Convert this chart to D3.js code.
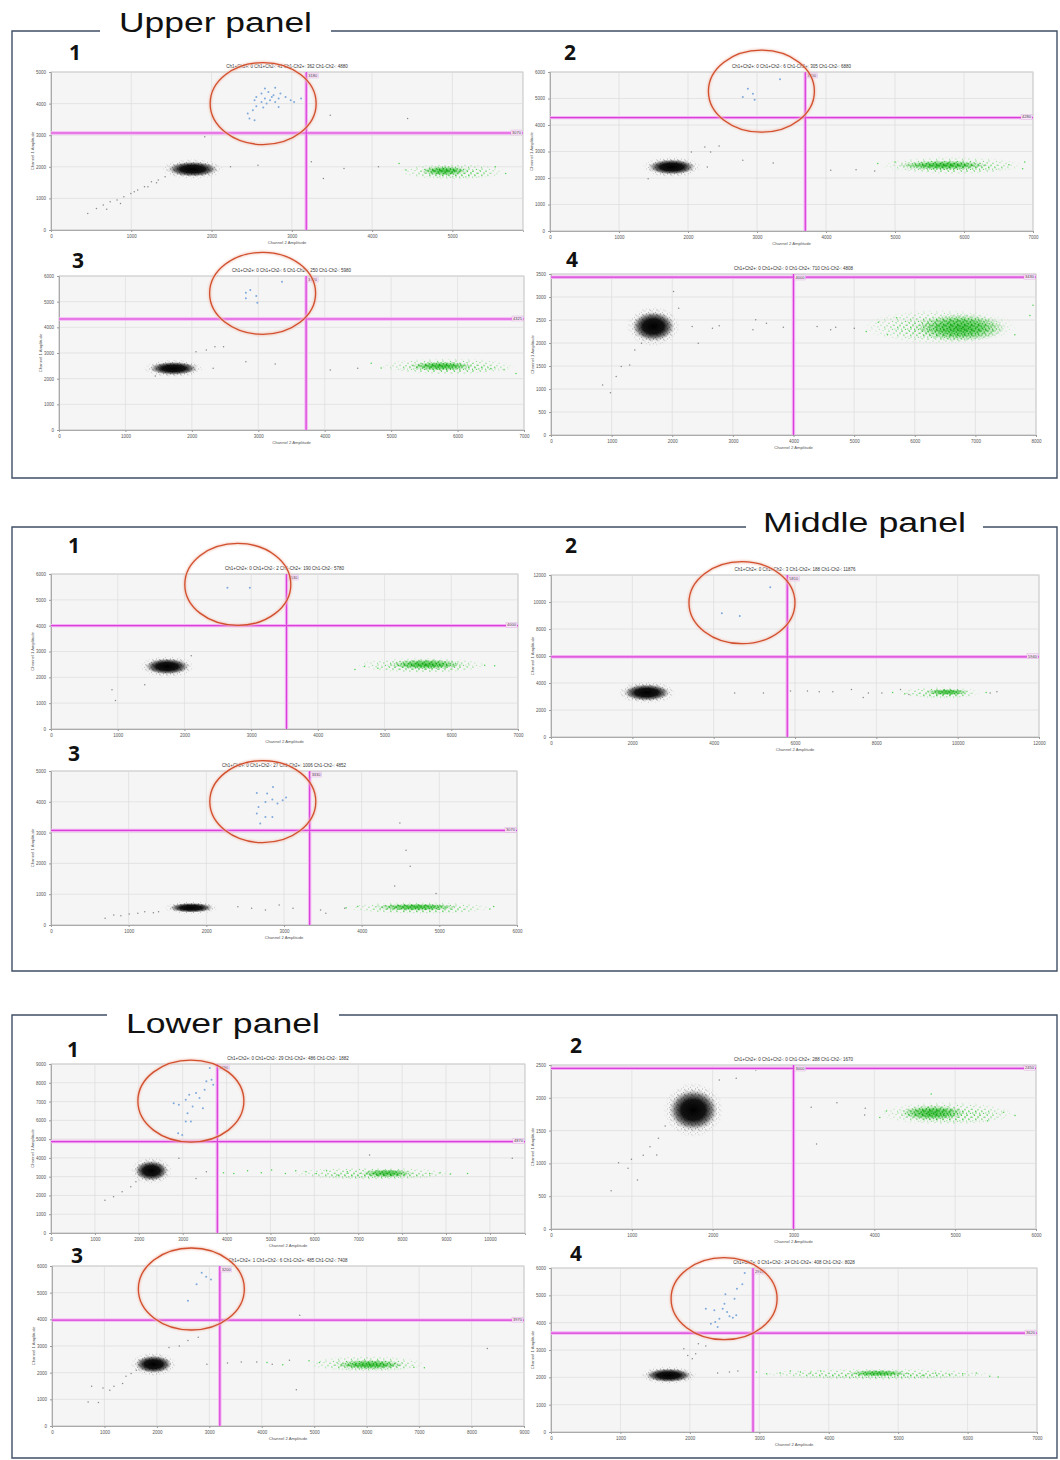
<!DOCTYPE html>
<html><head><meta charset="utf-8">
<title>ddPCR 2D amplitude plots</title>
<script src="https://d3js.org/d3.v7.min.js"></script>
<style>
  body { margin: 0; background: #fff; }
  svg text { font-family: "Liberation Sans", Arial, sans-serif; }
  .tick text { font-size: 4.5px; fill: #555; }
  .tick line { stroke: #999; }
  .domain { stroke: #aaa; }
  .num { font-family: "Open Sans", "DejaVu Sans", sans-serif; font-weight: bold; font-size: 21px; fill: #111; }
  .ptitle { font-size: 4.5px; fill: #333; text-anchor: middle; }
  .atitle { font-size: 4.2px; fill: #555; text-anchor: middle; }
</style>
</head><body>
<svg id="fig" width="1060" height="1460"></svg>
<script>
// ---- data (amplitudes) ----
const plotLabels = ["1","2","3","4","1","2","3","1","2","3","4"];
const xMax  = [5880, 7000, 7000, 8000, 7000, 12000, 6000, 10800, 6000, 9000, 7000];
const yMax  = [5000, 6000, 6000, 3500, 6000, 12000, 5000, 9000, 2500, 6000, 6000];
const xStep = [1000, 1000, 1000, 1000, 1000, 2000, 1000, 1000, 1000, 1000, 1000];
const yStep = [1000, 1000, 1000, 500, 1000, 2000, 1000, 1000, 500, 1000, 1000];
const gateX = [3180, 3700, 3720, 4000, 3530, 5810, 3330, 3790, 3000, 3200, 2910];
const gateY = [3070, 4280, 4325, 3430, 4000, 5940, 3070, 4870, 2450, 3970, 3620];

const countTitles = [
  "Ch1+Ch2+: 0   Ch1+Ch2-: 41   Ch1-Ch2+: 362   Ch1-Ch2-: 4880",
  "Ch1+Ch2+: 0   Ch1+Ch2-: 6   Ch1-Ch2+: 305   Ch1-Ch2-: 6880",
  "Ch1+Ch2+: 0   Ch1+Ch2-: 6   Ch1-Ch2+: 250   Ch1-Ch2-: 5980",
  "Ch1+Ch2+: 0   Ch1+Ch2-: 0   Ch1-Ch2+: 710   Ch1-Ch2-: 4808",
  "Ch1+Ch2+: 0   Ch1+Ch2-: 2   Ch1-Ch2+: 190   Ch1-Ch2-: 5780",
  "Ch1+Ch2+: 0   Ch1+Ch2-: 3   Ch1-Ch2+: 188   Ch1-Ch2-: 11876",
  "Ch1+Ch2+: 0   Ch1+Ch2-: 27   Ch1-Ch2+: 1006   Ch1-Ch2-: 4852",
  "Ch1+Ch2+: 0   Ch1+Ch2-: 29   Ch1-Ch2+: 486   Ch1-Ch2-: 1882",
  "Ch1+Ch2+: 0   Ch1+Ch2-: 0   Ch1-Ch2+: 288   Ch1-Ch2-: 1670",
  "Ch1+Ch2+: 1   Ch1+Ch2-: 6   Ch1-Ch2+: 485   Ch1-Ch2-: 7408",
  "Ch1+Ch2+: 0   Ch1+Ch2-: 24   Ch1-Ch2+: 408   Ch1-Ch2-: 8028"
];

// dense double-negative cluster: [ch2 centre, ch1 centre, ch2 half-spread, ch1 half-spread]
const blackCore = [
  [1765,1926,310,240],[1765,2415,340,290],[1725,2400,360,260],[1688,2360,350,320],
  [1741,2420,330,310],[2354,3292,570,620],[1806,560,280,160],[2287,3316,380,540],
  [1760,1814,300,310],[1936,2315,350,330],[1694,2073,330,250]
];
// Ch2-positive (green) band and its dense core
const greenBand = [
  [5000,1850,680,260],[5830,2470,1050,330],[5850,2480,1050,320],[6430,2350,1280,380],
  [5560,2470,1020,300],[9550,3290,1050,420],[4740,560,980,190],[7300,3170,1900,330],
  [4900,1760,850,180],[6000,2330,1150,300],[4700,2120,1750,200]
];
const greenCore = [
  [4900,1870,280,150],[5700,2480,620,170],[5750,2490,450,170],[6750,2330,700,280],
  [5620,2500,520,190],[9750,3320,520,230],[4700,580,520,110],[7650,3180,560,200],
  [4720,1770,380,110],[6060,2300,620,170],[4710,2150,420,110]
];

// Ch1-positive droplets (blue)
const bluePts = [
  [[2451,3684],[2515,3789],[2558,3916],[2622,4053],[2665,4158],[2686,4000],[2729,4105],[2751,4211],
   [2793,4053],[2836,4158],[2558,4211],[2622,4316],[2708,4368],[2772,4263],[2858,4316],[2922,4211],
   [2986,4105],[3029,4053],[2536,4105],[2644,3874],[2836,3895],[2472,3526],[2536,3474],[3115,4158],
   [2665,4474],[2793,4505]],
  [[2794,5057],[2868,5371],[2941,5182],[2966,4956],[3333,5723]],
  [[2813,5350],[2880,5455],[2969,5220],[2813,5130],[2985,4960],[3357,5780]],
  [],
  [[2645,5470],[2980,5470]],
  [[4201,9158],[4642,8960],[5391,11089]],
  [[2650,4287],[2783,4266],[2858,4482],[2761,3996],[2850,4071],[2916,3942],[2983,4050],[3027,4136],
   [2672,3834],[2761,3510],[2850,3510],[2694,3294],[2650,3618]],
  [[2897,5312],[2991,5223],[2913,6827],[3070,7094],[3148,7362],[3305,7451],[3383,7184],[3227,6738],
   [3110,6381],[3070,5936],[3188,5936],[2796,6916],[3501,7629],[3540,8075],[3658,8164],[3697,7897],
   [3618,8788],[3462,6649]],
  [],
  [[2592,4693],[2756,5319],[2940,5594],[2854,5744],[3031,5494]],
  [[2303,3963],[2400,3841],[2352,4451],[2425,4146],[2473,4512],[2498,4695],[2537,4390],[2571,4232],
   [2619,4183],[2668,4268],[2512,5037],[2643,4878],[2678,5244],[2756,5402],[2790,5817],[2366,4024],
   [2230,4512]]
];

// scattered (rain) droplets, grey
const rainPts = [
  [[458,526],[566,684],[651,789],[737,895],[823,947],[908,1053],[994,1158],[1080,1263],[1165,1368],
   [1251,1526],[1337,1579],[1422,1684],[694,653],[866,842],[1037,1211],[1208,1368],[1315,1495],
   [2579,2053],[3243,2158],[3393,1632],[3479,3632],[3650,1947],[4443,3526],[4379,3053],[4079,2000],
   [2236,2000],[1915,2947]],
  [[2049,2981],[2245,3170],[2328,2981],[2451,3208],[2794,2667],[3235,2566],[2280,2415],[4069,2289],
   [4436,2314],[4706,2264],[1422,1975]],
  [[2062,3052],[2218,3117],[2347,3247],[2477,3247],[2813,2662],[3254,2571],[2321,2402],[4083,2338],
   [4497,2402],[1450,2100]],
  [[852,1088],[980,921],[1075,1270],[1159,1488],[1298,1524],[1382,1850],[1493,1996],[2022,3120],
   [2106,2757],[2329,2358],[2429,1996],[2663,2322],[2774,2373],[3331,2286],[3376,2504],[3554,2431],
   [3833,2344],[4390,2358],[4613,2286],[4696,2344],[5003,2322]],
  [[2102,2831],[1405,1712],[914,1519],[966,1107]],
  [[4517,3267],[5224,3267],[5890,3416],[6306,3416],[6597,3350],[6930,3350],[7388,3515],[7679,2921],
   [7804,3267],[8136,3267],[8594,3515],[8802,3150],[10800,3267],[10965,3350]],
  [[697,216],[808,324],[900,302],[1007,356],[1118,378],[1207,432],[1318,400],[1385,432],
   [2406,594],[2583,540],[2761,486],[2938,648],[3116,540],[3471,486],[3538,378],[3782,540],
   [4492,3315],[4572,2430],[4625,1911],[4425,1264],[4958,1026]],
  [[1229,1747],[1425,1925],[1621,2193],[1817,2460],[1935,2727],[2913,3975],[3305,2906],[3540,3262],
   [7259,4153],[10509,3975]],
  [[744,584],[836,1011],[953,925],[995,1062],[1070,747],[1141,1123],[1225,1255],[1308,1128],
   [1329,1382],[1413,1570],[2082,2271],[2291,2297],[2533,2424],[3219,1855],[3537,1926],[3285,1296],
   [3880,1738],[3888,1840]],
  [[689,901],[886,880],[755,1489],[972,1427],[1102,1339],[1181,1489],[1345,1590],[1411,1865],
   [1509,1965],[1608,2090],[2231,2941],[2428,3003],[2592,3204],[2789,3329],[2953,2315],[3346,2365],
   [3609,2400],[3904,2400],[4199,2315],[4528,2465],[4659,1364],[4724,4155],[8300,2904]],
  [[1913,3049],[1970,2800],[2084,2866],[2035,2680],[2123,3232],[2230,3150],[2400,2159],[2570,2195],
   [2692,2230]]
];

// loose green droplets outside the dense band
const greenPts = [
  [[4336,2105],[4422,1895],[5536,2000],[5664,1789]],
  [[4750,2550],[5000,2600],[6650,2500],[6850,2350],[6880,2600]],
  [[4700,2600],[4850,2420],[6700,2350],[6880,2200],[6500,2400]],
  [[5200,2250],[5400,2450],[5550,2180],[5700,2550],[7900,2600],[7950,2820],[7650,2180]],
  [[4556,2300],[4700,2420],[4900,2350],[6500,2470],[6650,2450]],
  [[8400,3300],[8700,3200],[10700,3300]],
  [[3800,560],[3950,600],[5650,520],[5700,600]],
  [[3931,3208],[4166,3173],[4479,3316],[4792,3208],[5027,3351],[5340,3173],[5576,3316],[5810,3262],
   [6045,3173],[6280,3316],[6515,3084],[6750,3262],[8630,3173],[8865,3208],[9100,3137],[9491,3173]],
  [[4068,1700],[4150,1800],[4703,2058],[5600,1780],[5740,1730],[5400,1650]],
  [[4100,2380],[4400,2300],[4900,2450],[5100,2380],[6900,2200],[7100,2180]],
  [[2960,2195],[3106,2134],[3301,2159],[3447,2232],[3593,2195],[3739,2159],[3885,2232],[5151,2134],
   [5346,2073],[5540,2159],[5735,2110],[5930,2134],[6125,2159],[6319,2037],[6441,2012]]
];

// red highlight circles (centre in amplitude units), null = none
const circleAt = [[2643,4000],[3064,5277],[3065,5325],null,[2800,5598],[4696,9950],
                  [2727,4006],[3187,7023],null,[2657,5138],[2493,4878]];

// ---- layout ----
const plotBoxes = [
  [51,72,523,230],[550,72,1033,231],[59,276,524,430],[551,274,1036,435],
  [51,574,518,729],[551,575,1039,737],[51,771,517,925],
  [51,1064,525,1233],[551,1065,1036,1229],[52,1266,524,1426],[551,1268,1037,1432]
];
const numberPos = [[69,60],[564,60],[72,268],[566,267],[68,553],[565,553],[68,761],
                   [67,1057],[570,1053],[71,1263],[570,1261]];
const panels = [
  {top:31, bottom:478, title:"Upper panel", tx:119, tw:193, base:32, gap:[100,331]},
  {top:527, bottom:971, title:"Middle panel", tx:763, tw:203, base:532, gap:[746,983]},
  {top:1015, bottom:1458, title:"Lower panel", tx:126, tw:194, base:1033, gap:[107,339]}
];

const svg = d3.select("#fig");
const defs = svg.append("defs");

function radial(id, stops) {
  let gr = defs.append("radialGradient").attr("id", id);
  stops.forEach(s => gr.append("stop").attr("offset", s[0]).attr("stop-color", s[1]).attr("stop-opacity", s[2]));
}
radial("blackBlob", [[0,"#000",1],[0.5,"#080808",0.95],[0.75,"#252525",0.6],[0.9,"#444",0.2],[1,"#666",0]]);
radial("greenBlob", [[0,"#12b012",0.75],[0.5,"#1ebe1e",0.55],[0.85,"#40cc40",0.15],[1,"#44d044",0]]);
radial("fadeGrad", [[0,"#fff",1],[0.5,"#fff",0.85],[1,"#000",1]]);

let mask = defs.append("mask").attr("id","fadeMask").attr("maskContentUnits","objectBoundingBox");
mask.append("rect").attr("width",1).attr("height",1).attr("fill","url(#fadeGrad)");

// speckle textures for the droplet clouds
function speckle(id, color, w, h, r, dots) {
  let p = defs.append("pattern").attr("id", id).attr("patternUnits","userSpaceOnUse")
    .attr("width", w).attr("height", h);
  dots.forEach(d => p.append("circle").attr("cx", d[0]).attr("cy", d[1]).attr("r", r).attr("fill", color));
}
speckle("gdots", "#3fcc3f", 13, 8, 0.7, [[1,1],[5,3.2],[8.5,1.4],[3,5.8],[10,5.2],[6.8,6.9],[12,2.6],[0.5,7.3]]);
speckle("gdense", "#129f12", 7, 5, 0.8, [[1,1],[4.2,2.1],[6,0.6],[2.4,3.8],[5.6,4.3]]);
speckle("kdots", "#444", 7, 5, 0.55, [[1,1],[4.5,2.3],[6.2,0.6],[2.5,3.9],[5.8,4.4]]);

let soft = defs.append("filter").attr("id","soft").attr("x","-20%").attr("y","-20%").attr("width","140%").attr("height","140%");
soft.append("feGaussianBlur").attr("stdDeviation", 0.8);

// ---- panels ----
panels.forEach(p => {
  let pg = svg.append("g").attr("fill","none").attr("stroke","#3f4f66").attr("stroke-width",1.4);
  pg.append("path").attr("d",
    `M${p.gap[0]},${p.top} H12 V${p.bottom} H1057 V${p.top} H${p.gap[1]}`);
  svg.append("text").attr("x", p.tx).attr("y", p.base)
    .attr("textLength", p.tw).attr("lengthAdjust","spacingAndGlyphs")
    .style("font-size","27px").style("fill","#111").text(p.title);
});

// ---- plots ----
plotBoxes.forEach((box, i) => {
  const [x0, y0, x1, y1] = box;
  const x = d3.scaleLinear().domain([0, xMax[i]]).range([x0, x1]);
  const y = d3.scaleLinear().domain([0, yMax[i]]).range([y1, y0]);
  const xt = d3.range(0, xMax[i] + 1, xStep[i]);
  const yt = d3.range(0, yMax[i] + 1, yStep[i]);
  const g = svg.append("g");

  g.append("rect").attr("x", x0).attr("y", y0).attr("width", x1 - x0).attr("height", y1 - y0)
    .attr("fill", "#f5f5f5").attr("stroke", "#b5b5b5").attr("stroke-width", 0.8);

  g.append("g").selectAll("line").data(xt).join("line")
    .attr("x1", d => x(d)).attr("x2", d => x(d)).attr("y1", y0).attr("y2", y1)
    .attr("stroke", "#dcdcdc").attr("stroke-width", 0.7);
  g.append("g").selectAll("line").data(yt).join("line")
    .attr("y1", d => y(d)).attr("y2", d => y(d)).attr("x1", x0).attr("x2", x1)
    .attr("stroke", "#dcdcdc").attr("stroke-width", 0.7);

  g.append("g").attr("transform", `translate(0,${y1})`)
    .call(d3.axisBottom(x).tickValues(xt).tickSize(2).tickPadding(3).tickFormat(d3.format("d")));
  g.append("g").attr("transform", `translate(${x0},0)`)
    .call(d3.axisLeft(y).tickValues(yt).tickSize(2).tickPadding(3).tickFormat(d3.format("d")));

  g.append("text").attr("class","atitle").attr("x", (x0 + x1) / 2).attr("y", y1 + 14).text("Channel 2 Amplitude");
  g.append("text").attr("class","atitle")
    .attr("transform", `translate(${x0 - 17},${(y0 + y1) / 2}) rotate(-90)`).text("Channel 1 Amplitude");
  g.append("text").attr("class","ptitle").attr("x", (x0 + x1) / 2).attr("y", y0 - 4).text(countTitles[i]);

  // clip droplets to plot area
  const cid = "clip" + i;
  defs.append("clipPath").attr("id", cid).append("rect")
    .attr("x", x0).attr("y", y0).attr("width", x1 - x0).attr("height", y1 - y0);
  const dg = g.append("g").attr("clip-path", `url(#${cid})`);

  const ell = (sel, c, kx, ky) => sel.append("ellipse")
    .attr("cx", x(c[0])).attr("cy", y(c[1]))
    .attr("rx", (x(c[0] + c[2]) - x(c[0])) * kx).attr("ry", (y(c[1]) - y(c[1] + c[3])) * ky);

  // green (Ch2+) cloud
  ell(dg, greenBand[i], 1, 1).attr("fill", "url(#gdots)").attr("mask", "url(#fadeMask)");
  ell(dg, greenBand[i], 0.8, 0.7).attr("fill", "url(#gdots)").attr("mask", "url(#fadeMask)")
    .attr("transform", "translate(4,2)");
  ell(dg, greenCore[i], 1, 1).attr("fill", "url(#greenBlob)");
  ell(dg, greenCore[i], 1.1, 1.1).attr("fill", "url(#gdense)").attr("mask", "url(#fadeMask)");

  // black (double negative) cloud
  ell(dg, blackCore[i], 1.25, 1.35).attr("fill", "url(#kdots)").attr("mask", "url(#fadeMask)");
  ell(dg, blackCore[i], 1, 1).attr("fill", "url(#blackBlob)");

  dg.append("g").selectAll("circle").data(greenPts[i]).join("circle")
    .attr("cx", d => x(d[0])).attr("cy", d => y(d[1])).attr("r", 0.75).attr("fill", "#4fd04f");
  dg.append("g").selectAll("circle").data(rainPts[i]).join("circle")
    .attr("cx", d => x(d[0])).attr("cy", d => y(d[1])).attr("r", 0.75).attr("fill", "#8a8a8a");
  dg.append("g").selectAll("circle").data(bluePts[i]).join("circle")
    .attr("cx", d => x(d[0])).attr("cy", d => y(d[1])).attr("r", 1).attr("fill", "#7ea9dc");

  // threshold gates
  const gx = x(gateX[i]), gy = y(gateY[i]);
  [["#f4b2f4", 3.4], ["#d940d9", 1.2]].forEach(s => {
    g.append("line").attr("x1", x0).attr("x2", x1).attr("y1", gy).attr("y2", gy)
      .attr("stroke", s[0]).attr("stroke-width", s[1]);
    g.append("line").attr("x1", gx).attr("x2", gx).attr("y1", y0).attr("y2", y1)
      .attr("stroke", s[0]).attr("stroke-width", s[1]);
  });
  g.append("rect").attr("x", gx + 1).attr("y", y0 + 1).attr("width", 11).attr("height", 5)
    .attr("fill", "#fbe3fb").attr("stroke", "#c9c").attr("stroke-width", 0.3);
  g.append("text").attr("x", gx + 2).attr("y", y0 + 4.8).style("font-size", "4px").style("fill", "#444")
    .text(gateX[i]);
  g.append("rect").attr("x", x1 - 12).attr("y", gy - 3).attr("width", 11).attr("height", 5)
    .attr("fill", "#fbe3fb").attr("stroke", "#c9c").attr("stroke-width", 0.3);
  g.append("text").attr("x", x1 - 11).attr("y", gy + 0.8).style("font-size", "4px").style("fill", "#444")
    .text(gateY[i]);

  // red highlight circle
  if (circleAt[i]) {
    const cx = x(circleAt[i][0]), cy = y(circleAt[i][1]);
    g.append("ellipse").attr("cx", cx).attr("cy", cy).attr("rx", 53).attr("ry", 41)
      .attr("fill", "none").attr("stroke", "#f1c3b4").attr("stroke-width", 2.4).attr("filter", "url(#soft)");
    g.append("ellipse").attr("cx", cx).attr("cy", cy).attr("rx", 53).attr("ry", 41)
      .attr("fill", "none").attr("stroke", "#d24f2e").attr("stroke-width", 1.3);
  }

  svg.append("text").attr("class", "num").attr("x", numberPos[i][0]).attr("y", numberPos[i][1])
    .text(plotLabels[i]);
});
</script>
</body></html>
